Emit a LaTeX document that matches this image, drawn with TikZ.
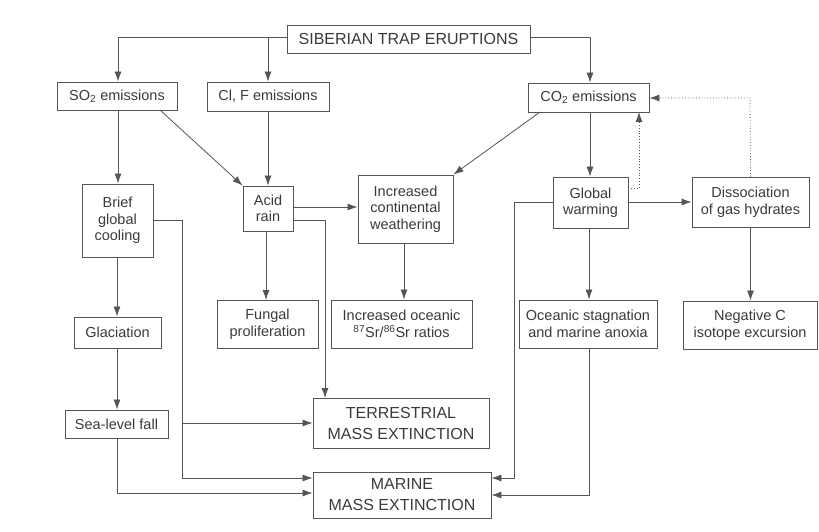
\documentclass[tikz,border=0pt]{standalone}
\usepackage{fontspec}
\setmainfont{Liberation Sans}
\usetikzlibrary{arrows.meta}
\definecolor{txt}{HTML}{3A3A3A}
\definecolor{ln}{HTML}{555555}
\tikzset{
  box/.style={draw=ln, line width=0.9pt, text=txt, align=center, inner sep=0pt,
    font=\fontsize{14.5}{16.5}\selectfont},
  bigbox/.style={box, font=\fontsize{16}{21}\selectfont},
  conn/.style={draw=ln, line width=0.8pt, -{Latex[length=10pt,width=7pt]}},
  dotconn/.style={conn, dotted},
  plain/.style={draw=ln, line width=0.8pt}
}
\newcommand{\bx}[6]{\node[#1, minimum width=#4pt, minimum height=#5pt] (#2) at (#3) {#6};}
\begin{document}
\begin{tikzpicture}[x=1pt,y=-1pt]
\useasboundingbox (0,0) rectangle (819,531);
% nodes
\bx{bigbox}{sib}{408.5,39}{243}{28}{SIBERIAN TRAP ERUPTIONS}
\bx{box}{so2}{117,96}{120}{28}{SO\textsubscript{2} emissions}
\bx{box}{clf}{268,96.5}{122}{29}{Cl, F emissions}
\bx{box}{co2}{588.5,97.5}{121}{29}{CO\textsubscript{2} emissions}
\bx{box}{brief}{117.5,220.5}{71}{73}{Brief\\global\\cooling}
\bx{box}{acid}{268,208.5}{50}{45}{Acid\\rain}
\bx{box}{icw}{405.5,209}{95}{68}{Increased\\continental\\weathering}
\bx{box}{gw}{590.5,202.5}{75}{51}{Global\\warming}
\bx{box}{dgh}{750.5,202}{117}{50}{Dissociation\\of gas hydrates}
\bx{box}{glac}{117.5,332.5}{87}{31}{Glaciation}
\bx{box}{fung}{267.5,324}{101}{48}{Fungal\\proliferation}
\bx{box}{ios}{401.5,324}{141}{48}{Increased oceanic\\\textsuperscript{87}Sr/\textsuperscript{86}Sr ratios}
\bx{box}{osma}{588,324}{138}{48}{Oceanic stagnation\\and marine anoxia}
\bx{box}{negc}{750,325}{134}{48}{Negative C\\isotope excursion}
\bx{box}{sea}{116.5,424}{103}{28}{Sea-level fall}
\bx{bigbox}{terr}{401,423}{176}{50}{TERRESTRIAL\\MASS EXTINCTION}
\bx{bigbox}{mar}{402,495}{178}{46}{MARINE\\MASS EXTINCTION}
% helper coordinates
\coordinate (sibL) at (287,37);
\coordinate (sibR) at (530,37);
\coordinate (j1) at (268,37);
\coordinate (bv) at (182,423);
% top level
\draw[conn] (sibL) -| (so2.north -| 118,0);
\draw[conn] (j1) -- (clf.north);
\draw[conn] (sibR) -| (co2.north -| 590,0);
% SO2 / Cl,F
\draw[conn] (so2.south -| 118,0) -- (brief.north -| 118,0);
\draw[conn] (160,110) -- (acid.north west);
\draw[conn] (clf.south) -- (acid.north);
% acid rain
\draw[conn] (acid.east |- 0,207) -- (icw.west |- 0,207);
\draw[conn] (266,231) -- (266,300);
\draw[conn] (acid.east |- 0,220) -| (325,398);
% brief cooling
\draw[conn] (brief.south -| 117,0) -- (glac.north -| 117,0);
\draw[conn] (glac.south -| 117,0) -- (sea.north -| 117,0);
\draw[conn] (brief.east |- 0,220) -| (182,478) -- (mar.west |- 0,478);
\draw[conn] (bv) -- (terr.west |- bv);
\draw[conn] (sea.south -| 117,0) |- (mar.west |- 0,493);
% CO2 side
\draw[conn] (540,112) -- (icw.north east);
\draw[conn] (co2.south -| 590,0) -- (gw.north -| 590,0);
\draw[dotconn] (gw.east |- 0,188) -- (639,188) -- (639,112);
\draw[dotconn] (dgh.north) -- (750,98) -- (co2.east |- 0,98);
\draw[conn] (gw.east |- 0,202) -- (dgh.west |- 0,202);
\draw[conn] (gw.south -| 589,0) -- (osma.north -| 589,0);
\draw[conn] (gw.west |- 0,202) -- (514,202) -- (514,478) -- (mar.east |- 0,478);
\draw[conn] (osma.south -| 589,0) -- (589,495) -- (mar.east |- 0,495);
\draw[conn] (dgh.south) -- (negc.north -| dgh.south);
\draw[conn] (icw.south -| 404,0) -- (ios.north -| 404,0);
\end{tikzpicture}
\end{document}
